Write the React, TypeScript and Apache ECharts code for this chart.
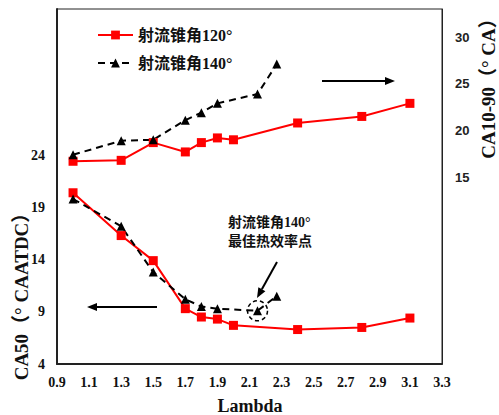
import React, { useEffect, useRef } from "react";
import * as echarts from "echarts";

const xTicks = [0.9, 1.1, 1.3, 1.5, 1.7, 1.9, 2.1, 2.3, 2.5, 2.7, 2.9, 3.1, 3.3];
const leftTicks = [4, 9, 14, 19, 24];
const rightTicks = [15, 20, 25, 30];

const lambda120 = [1.0, 1.3, 1.5, 1.7, 1.8, 1.9, 2.0, 2.4, 2.8, 3.1];
const ca50_120 = [20.4, 16.3, 13.9, 9.3, 8.5, 8.3, 7.7, 7.3, 7.5, 8.4];
const ca1090_120 = [16.7, 16.8, 18.7, 17.7, 18.7, 19.2, 19.0, 20.8, 21.5, 22.9];

const lambda140 = [1.0, 1.3, 1.5, 1.7, 1.8, 1.9, 2.15, 2.27];
const ca50_140 = [19.8, 17.2, 12.8, 10.2, 9.5, 9.3, 9.1, 10.5];
const ca1090_140 = [17.4, 18.9, 19.0, 21.1, 21.9, 22.9, 23.9, 27.1];

const bestPoint = [2.15, 9.1];

const name120 = "射流锥角120°";
const name140 = "射流锥角140°";

const SERIF = "Liberation Serif, Noto Sans CJK SC, serif";
const SANS = "Liberation Sans, Arial, sans-serif";

function arrow(x1: number, y1: number, x2: number, y2: number, head = 10, half = 4) {
  const dx = x2 - x1;
  const dy = y2 - y1;
  const len = Math.sqrt(dx * dx + dy * dy);
  const ux = dx / len;
  const uy = dy / len;
  const bx = x2 - ux * head;
  const by = y2 - uy * head;
  const px = -uy * half;
  const py = ux * half;
  return [
    {
      type: "line",
      shape: { x1, y1, x2: bx, y2: by },
      style: { stroke: "#000", lineWidth: 2 },
      silent: true,
    },
    {
      type: "polygon",
      shape: {
        points: [
          [x2, y2],
          [bx + px, by + py],
          [bx - px, by - py],
        ],
      },
      style: { fill: "#000" },
      silent: true,
    },
  ];
}

export default function App() {
  const ref = useRef<HTMLDivElement>(null);
  useEffect(() => {
    if (!ref.current) return;
    const chart = echarts.init(ref.current, undefined, { renderer: "svg" });
    const zip = (xs: number[], ys: number[]) => xs.map((x, i) => [x, ys[i]]);
    const option: any = {
      animation: false,
      backgroundColor: "#fff",
      grid: {
        left: 57,
        right: 57,
        top: 9,
        bottom: 51,
        show: true,
        borderColor: "#222",
        borderWidth: 1,
        backgroundColor: "transparent",
      },
      legend: {
        left: 92,
        top: 22,
        orient: "vertical",
        itemWidth: 35,
        itemHeight: 11,
        itemGap: 12,
        data: [name120, name140],
        textStyle: { fontFamily: SERIF, fontWeight: "bold", fontSize: 16, color: "#111" },
      },
      xAxis: {
        type: "value",
        min: 0.9,
        max: 3.3,
        axisLine: { show: true, onZero: false, lineStyle: { color: "#222", width: 2 } },
        axisTick: { show: false },
        splitLine: { show: false },
        axisLabel: {
          customValues: xTicks,
          formatter: (v: number) => v.toFixed(1),
          fontFamily: SERIF,
          fontWeight: "bold",
          fontSize: 14,
          color: "#111",
          margin: 11,
        },
      },
      yAxis: [
        {
          type: "value",
          position: "left",
          min: 4,
          max: 38,
          axisLine: { show: true, onZero: false, lineStyle: { color: "#222", width: 2 } },
          axisTick: { show: false },
          splitLine: { show: false },
          axisLabel: {
            customValues: leftTicks,
            fontFamily: SERIF,
            fontWeight: "bold",
            fontSize: 14,
            color: "#111",
            margin: 12,
          },
        },
        {
          type: "value",
          position: "right",
          min: -5,
          max: 33,
          axisLine: { show: true, onZero: false, lineStyle: { color: "#222", width: 1 } },
          axisTick: { show: false },
          splitLine: { show: false },
          axisLabel: {
            customValues: rightTicks,
            fontFamily: SANS,
            fontWeight: "bold",
            fontSize: 13,
            color: "#222",
            margin: 13,
          },
        },
      ],
      series: [
        {
          name: name120,
          type: "line",
          yAxisIndex: 1,
          data: zip(lambda120, ca1090_120),
          symbol: "rect",
          symbolSize: 9,
          lineStyle: { color: "#ff0000", width: 2 },
          itemStyle: { color: "#ff0000" },
        },
        {
          name: name140,
          type: "line",
          yAxisIndex: 1,
          data: zip(lambda140, ca1090_140),
          symbol: "triangle",
          symbolSize: 9,
          lineStyle: { color: "#000", width: 2, type: [7, 5] },
          itemStyle: { color: "#000" },
        },
        {
          name: name120,
          type: "line",
          yAxisIndex: 0,
          data: zip(lambda120, ca50_120),
          symbol: "rect",
          symbolSize: 9,
          lineStyle: { color: "#ff0000", width: 2 },
          itemStyle: { color: "#ff0000" },
        },
        {
          name: name140,
          type: "line",
          yAxisIndex: 0,
          data: zip(lambda140, ca50_140),
          symbol: "triangle",
          symbolSize: 9,
          lineStyle: { color: "#000", width: 2, type: [7, 5] },
          itemStyle: { color: "#000" },
          markPoint: {
            silent: true,
            symbol: "circle",
            symbolSize: 20,
            label: { show: false },
            itemStyle: {
              color: "rgba(0,0,0,0)",
              borderColor: "#000",
              borderWidth: 1.5,
              borderType: [4, 3],
            },
            data: [{ coord: bestPoint }],
          },
        },
      ],
      graphic: [
        {
          type: "text",
          x: 21,
          y: 292,
          rotation: Math.PI / 2,
          style: {
            text: "CA50（° CAATDC）",
            fontFamily: SERIF,
            fontWeight: "bold",
            fontSize: 19,
            fill: "#111",
            align: "center",
            verticalAlign: "middle",
          },
        },
        {
          type: "text",
          x: 488,
          y: 84,
          rotation: Math.PI / 2,
          style: {
            text: "CA10-90（° CA）",
            fontFamily: SERIF,
            fontWeight: "bold",
            fontSize: 19,
            fill: "#111",
            align: "center",
            verticalAlign: "middle",
          },
        },
        {
          type: "text",
          x: 250,
          y: 406,
          style: {
            text: "Lambda",
            fontFamily: SERIF,
            fontWeight: "bold",
            fontSize: 18,
            fill: "#111",
            align: "center",
            verticalAlign: "middle",
          },
        },
        {
          type: "text",
          x: 228,
          y: 232,
          style: {
            text: "射流锥角140°\n最佳热效率点",
            fontFamily: SERIF,
            fontWeight: "bold",
            fontSize: 14,
            lineHeight: 19,
            fill: "#111",
            align: "left",
            verticalAlign: "middle",
          },
        },
        ...arrow(322, 81, 395, 81),
        ...arrow(157, 307, 87, 307),
        ...arrow(277, 262, 257, 298),
      ],
    };
    chart.setOption(option);
    return () => chart.dispose();
  }, []);
  return (
    <div
      ref={ref}
      style={{ position: "absolute", left: 0, top: 0, width: 499, height: 415 }}
    />
  );
}
